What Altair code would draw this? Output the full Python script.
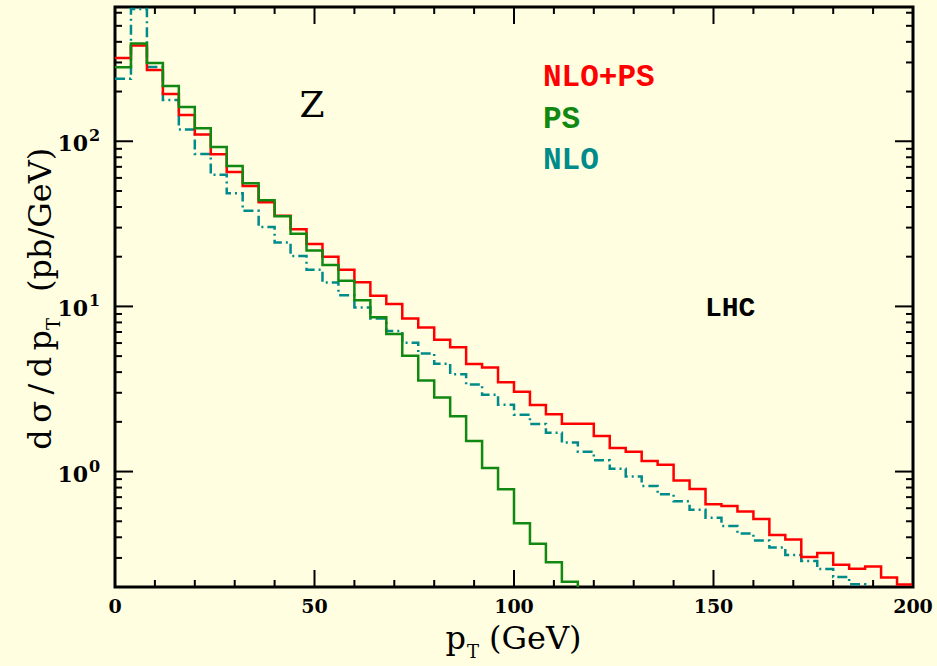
import altair as alt
import pandas as pd

# ---------------- data ----------------
bin_lo = [0, 4, 8, 12, 16, 20, 24, 28, 32, 36, 40, 44, 48, 52, 56, 60, 64, 68, 72, 76,
          80, 84, 88, 92, 96, 100, 104, 108, 112, 116, 120, 124, 128, 132, 136, 140,
          144, 148, 152, 156, 160, 164, 168, 172, 176, 180, 184, 188, 192, 196]
bin_width = 4

nlo_ps = [319, 380, 270, 193, 144, 110, 83.4, 65.1, 53.6, 42.7,
          35.4, 29.3, 23.9, 19.95, 16.7, 14.0, 11.6, 10.35, 8.44, 7.44,
          6.29, 5.65, 4.48, 4.27, 3.47, 3.04, 2.53, 2.22, 1.95, 1.95,
          1.64, 1.39, 1.32, 1.16, 1.10, 0.882, 0.785, 0.633, 0.619, 0.574,
          0.516, 0.413, 0.388, 0.304, 0.321, 0.273, 0.258, 0.266, 0.228, 0.207]

ps = [281, 391, 298, 216, 161, 120, 92.3, 70.8, 55.6, 44.0,
      35.1, 27.5, 21.8, 17.8, 14.3, 10.9, 8.59, 6.81, 5.03, 3.56,
      2.81, 2.16, 1.53, 1.05, 0.781, 0.486, 0.366, 0.282, 0.215, 0.1]

nlo = [239, 632, 282, 178, 118, 83.7, 62.7, 48.4, 37.9, 30.3,
       24.4, 20.2, 16.7, 13.95, 11.7, 9.84, 8.44, 7.10, 6.03, 5.18,
       4.50, 3.89, 3.37, 2.92, 2.54, 2.21, 1.94, 1.72, 1.50, 1.32,
       1.17, 1.04, 0.933, 0.819, 0.728, 0.660, 0.588, 0.526, 0.468, 0.421,
       0.383, 0.347, 0.312, 0.287, 0.257, 0.230, 0.208, 0.1]

x_major = [0, 50, 100, 150, 200]
x_major_labels = ["0", "50", "100", "150", "200"]
x_minor = [10, 20, 30, 40, 60, 70, 80, 90, 110, 120, 130, 140, 160, 170, 180, 190]
y_major = [1, 10, 100]
y_major_exp = ["0", "1", "2"]
y_minor = [0.2, 0.3, 0.4, 0.5, 0.6, 0.7, 0.8, 0.9,
           2, 3, 4, 5, 6, 7, 8, 9,
           20, 30, 40, 50, 60, 70, 80, 90,
           200, 300, 400, 500, 600]

series_labels = ["NLO+PS", "PS", "NLO"]
process_label = "Z"
collider_label = "LHC"

# ---------------- styling ----------------
W, H = 798, 580
BG = "#FFFEE0"
RED = "#FF0000"
GREEN = "#118811"
TEAL = "#008B8B"
TS = "\u2009"  # thin space, to mimic the wide-set title lettering

x_scale = alt.Scale(domain=[0, 200], nice=False, zero=False)
y_scale = alt.Scale(type="log", domain=[0.2, 650], nice=False)


def steps(vals):
    rows = [{"x": bin_lo[i], "y": v} for i, v in enumerate(vals)]
    rows.append({"x": bin_lo[len(vals) - 1] + bin_width, "y": vals[-1]})
    return pd.DataFrame(rows)


def line_layer(vals, color, dash=None):
    kw = dict(color=color, strokeWidth=2.5, interpolate="step-after", clip=True)
    if dash:
        kw["strokeDash"] = dash
    return alt.Chart(steps(vals)).mark_line(**kw).encode(
        x=alt.X("x:Q", scale=x_scale, axis=None),
        y=alt.Y("y:Q", scale=y_scale, axis=None),
    )


def xticks(vals, y0, y1):
    return alt.Chart(pd.DataFrame({"x": vals})).mark_rule(color="black", strokeWidth=2).encode(
        x=alt.X("x:Q", scale=x_scale, axis=None), y=alt.value(y0), y2=alt.value(y1))


def yticks(vals, x0, x1):
    return alt.Chart(pd.DataFrame({"y": vals})).mark_rule(color="black", strokeWidth=2).encode(
        y=alt.Y("y:Q", scale=y_scale, axis=None), x=alt.value(x0), x2=alt.value(x1))


def label(text, x, y, color="black", size=30, font="Liberation Mono", weight="bold",
          align="left", baseline="middle", angle=0):
    kw = dict(color=color, fontSize=size, font=font, fontWeight=weight,
              align=align, baseline=baseline)
    if angle:
        kw["angle"] = angle
    return alt.Chart(pd.DataFrame({"t": [text]})).mark_text(**kw).encode(
        x=alt.value(x), y=alt.value(y), text="t:N")


layers = [
    line_layer(nlo, TEAL, dash=[10, 4, 2, 4]),
    line_layer(nlo_ps, RED),
    line_layer(ps, GREEN),
    # ticks
    xticks(x_major, H, H - 17), xticks(x_major, 0, 17),
    xticks(x_minor, H, H - 7), xticks(x_minor, 0, 7),
    yticks(y_major, 0, 18), yticks(y_major, W, W - 18),
    yticks(y_minor, 0, 7), yticks(y_minor, W, W - 7),
]

# x tick labels
layers.append(
    alt.Chart(pd.DataFrame({"x": x_major, "t": x_major_labels})).mark_text(
        font="DejaVu Serif", fontWeight="bold", fontSize=19, align="center", baseline="middle"
    ).encode(x=alt.X("x:Q", scale=x_scale, axis=None), y=alt.value(H + 20), text="t:N")
)
# y tick labels: "10" with superscript exponent
ydf = pd.DataFrame({"y": y_major, "b": ["10"] * 3, "e": y_major_exp})
layers.append(
    alt.Chart(ydf).mark_text(font="DejaVu Serif", fontWeight="bold", fontSize=22,
                             align="right", baseline="alphabetic", dy=10).encode(
        y=alt.Y("y:Q", scale=y_scale, axis=None), x=alt.value(-27), text="b:N")
)
layers.append(
    alt.Chart(ydf).mark_text(font="DejaVu Serif", fontWeight="bold", fontSize=16,
                             align="left", baseline="alphabetic", dy=0).encode(
        y=alt.Y("y:Q", scale=y_scale, axis=None), x=alt.value(-26), text="e:N")
)

# axis titles (with subscripts)
layers += [
    label("p", 351, 642, size=32, font="DejaVu Serif", weight="normal", align="right",
          baseline="alphabetic"),
    label("T", 352, 651, size=18, font="DejaVu Serif", weight="normal", align="left",
          baseline="alphabetic"),
    label("(GeV)", 374, 642, size=32, font="DejaVu Serif", weight="normal", align="left",
          baseline="alphabetic"),
    label(TS.join("dσ/dp"), -64, 323, size=32, font="DejaVu Serif", weight="normal",
          align="right", baseline="alphabetic", angle=270),
    label("T", -55, 323, size=18, font="DejaVu Serif", weight="normal", align="left",
          baseline="alphabetic", angle=270),
    label("(pb/GeV)", -64, 285, size=32, font="DejaVu Serif", weight="normal", align="left",
          baseline="alphabetic", angle=270),
]

# in-plot annotations
layers += [
    label(series_labels[0], 428, 70, color=RED, size=31),
    label(series_labels[1], 428, 112, color=GREEN, size=31),
    label(series_labels[2], 428, 153, color=TEAL, size=31),
    label(process_label, 197, 99, size=36, font="DejaVu Serif", weight="normal", align="center"),
    label(collider_label, 590, 301, size=28),
]

chart = alt.layer(*layers).properties(
    width=W, height=H,
    background=BG,
    padding={"left": 115, "top": 7, "right": 24, "bottom": 79},
    autosize=alt.AutoSizeParams(type="none"),
).configure_view(stroke="black", strokeWidth=3, fill=BG)

chart.save("out.html", embed_options={"renderer": "svg", "actions": False})
